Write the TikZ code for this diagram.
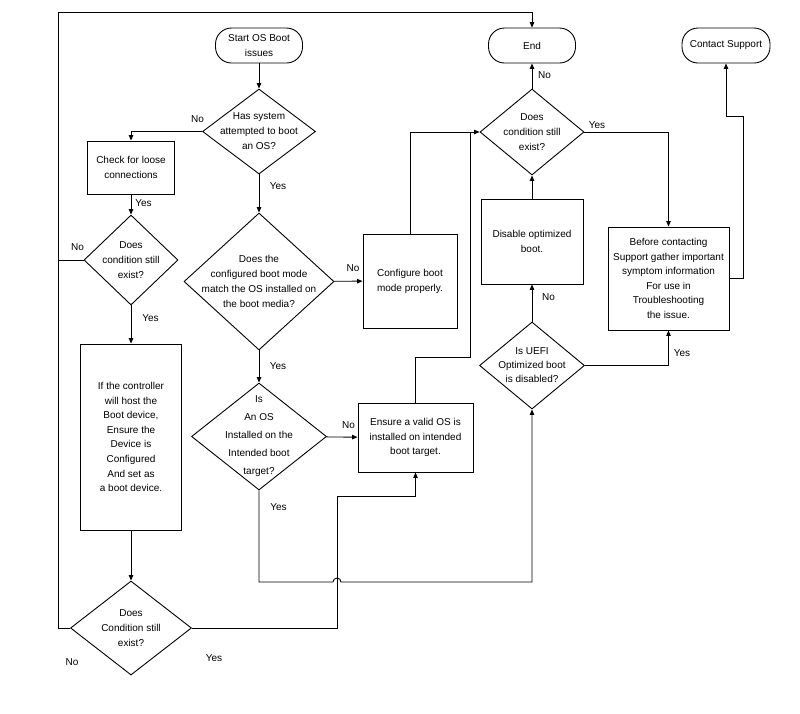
\documentclass[tikz,border=0pt]{standalone}
\usepackage{fontspec}
\setmainfont{Liberation Sans}
\usetikzlibrary{shapes.geometric,arrows.meta}
\tikzset{
  every node/.style={font=\fontsize{10}{15}\selectfont},
  box/.style={draw, rectangle, line width=0.9pt, inner sep=0pt, align=center},
  term/.style={draw, rectangle, rounded corners=16pt, line width=0.9pt, inner sep=0pt, align=center, minimum height=35pt},
  dia/.style={draw, diamond, line width=0.9pt, inner sep=0pt},
  dtxt/.style={align=center, inner sep=0pt},
  lbl/.style={inner sep=0pt},
  conn/.style={line width=0.9pt, -{Triangle[length=5.5pt,width=4.5pt]}},
  plain/.style={line width=0.9pt},
}
\begin{document}
\begin{tikzpicture}[x=1pt,y=-1pt]
\useasboundingbox (0,0) rectangle (800,713);
% terminals
\node[term, minimum width=87pt] (start) at (259,45.5) {Start OS Boot\\issues};
\node[term, minimum width=87pt] (end) at (532,45.5) {End};
\node[term, minimum width=88pt] (cs) at (726,45.5) {Contact Support};
% diamonds
\node[dia, minimum width=113pt, minimum height=85pt] (d1) at (259,131.5) {};
\node[dtxt] (t1) at (d1.center) {Has system\\attempted to boot\\an OS?};
\node[dia, minimum width=94pt, minimum height=90pt] (d2) at (131,260) {};
\node[dtxt] (t2) at (d2.center) {Does\\condition still\\exist?};
\node[dia, minimum width=121pt, minimum height=94pt] (d3) at (131,628) {};
\node[dtxt] (t3) at (d3.center) {Does\\Condition still\\exist?};
\node[dia, minimum width=150pt, minimum height=137pt] (d4) at (259,281.5) {};
\node[dtxt] (t4) at (d4.center) {Does the\\configured boot mode\\match the OS installed on\\the boot media?};
\node[dia, minimum width=135pt, minimum height=107pt] (d7) at (259,436.5) {};
\node[dtxt, font=\fontsize{10}{18}\selectfont] (t7) at (d7.center) {Is\\An OS\\Installed on the\\Intended boot\\target?};
\node[dia, minimum width=104pt, minimum height=86pt] (d5) at (532,132) {};
\node[dtxt] (t5) at (d5.center) {Does\\condition still\\exist?};
\node[dia, minimum width=105pt, minimum height=87pt] (d6) at (532,365.5) {};
\node[dtxt, font=\fontsize{10}{14}\selectfont] (t6) at (d6.center) {Is UEFI\\Optimized boot\\is disabled?};
% boxes
\node[box, minimum width=87pt, minimum height=53pt] (chk) at (131,167.5) {Check for loose\\connections};
\node[box, minimum width=101pt, minimum height=186pt, font=\fontsize{10}{14.6}\selectfont] (ctl) at (131,437) {If the controller\\will host the\\Boot device,\\Ensure the\\Device is\\Configured\\And set as\\a boot device.};
\node[box, minimum width=94pt, minimum height=94pt] (cfg) at (410,281) {Configure boot\\mode properly.};
\node[box, minimum width=115pt, minimum height=69pt, font=\fontsize{10}{14.5}\selectfont] (ens) at (415.5,437.5) {Ensure a valid OS is\\installed on intended\\boot target.};
\node[box, minimum width=102pt, minimum height=85pt] (dis) at (532,241.5) {Disable optimized\\boot.};
\node[box, minimum width=121pt, minimum height=103pt, font=\fontsize{10}{14.5}\selectfont] (bef) at (668.5,278.5) {Before contacting\\Support gather important\\symptom information\\For use in\\Troubleshooting\\the issue.};
% helper coordinates
\coordinate (lt) at (58,12);
\coordinate (j1) at (337,496);
\coordinate (j2) at (470,357);
\coordinate (j3) at (743,116);
\coordinate (hopL) at (333,582);
% connectors
\draw[conn] (start) -- (d1);
\draw[conn] (d1.west) -| (chk.north);
\draw[conn] (chk) -- (d2);
\draw[conn] (d2) -- (ctl);
\draw[plain] (d2.west) -- (d2.west -| lt);
\draw[conn] (ctl) -- (d3);
\draw[conn] (d3.west) -| (lt) -| (end.north);
\draw[conn] (d3.east) -| (j1) -| (ens.south);
\draw[conn] (d1) -- (d4);
\draw[conn] (d4) -- (cfg);
\draw[conn] (cfg.north) |- (d5.west);
\draw[plain] (ens.north) |- (j2) -- (j2 |- d5.west);
\draw[conn] (d4) -- (d7);
\draw[conn] (d7) -- (ens);
\draw[conn] (d7.south) |- (hopL) arc[start angle=180, end angle=0, radius=4pt] -| (d6.south);
\draw[conn] (d6) -- (dis);
\draw[conn] (dis) -- (d5);
\draw[conn] (d5) -- (end);
\draw[conn] (d5.east) -| (bef.north);
\draw[conn] (d6.east) -| (bef.south);
\draw[conn] (bef.east) -| (j3) -| (cs.south);
% labels
\node[lbl] (l1) at (197.5,119) {No};
\node[lbl] (l2) at (143.5,203) {Yes};
\node[lbl] (l3) at (77.5,247) {No};
\node[lbl] (l4) at (150.5,318) {Yes};
\node[lbl] (l5) at (72,662) {No};
\node[lbl] (l6) at (214,658) {Yes};
\node[lbl] (l7) at (278,186) {Yes};
\node[lbl] (l8) at (353,268) {No};
\node[lbl] (l9) at (278,366) {Yes};
\node[lbl] (l10) at (348.5,425) {No};
\node[lbl] (l11) at (278.5,507) {Yes};
\node[lbl] (l12) at (548.5,297) {No};
\node[lbl] (l13) at (544.5,75) {No};
\node[lbl] (l14) at (597,125) {Yes};
\node[lbl] (l15) at (682,353) {Yes};
\end{tikzpicture}
\end{document}
